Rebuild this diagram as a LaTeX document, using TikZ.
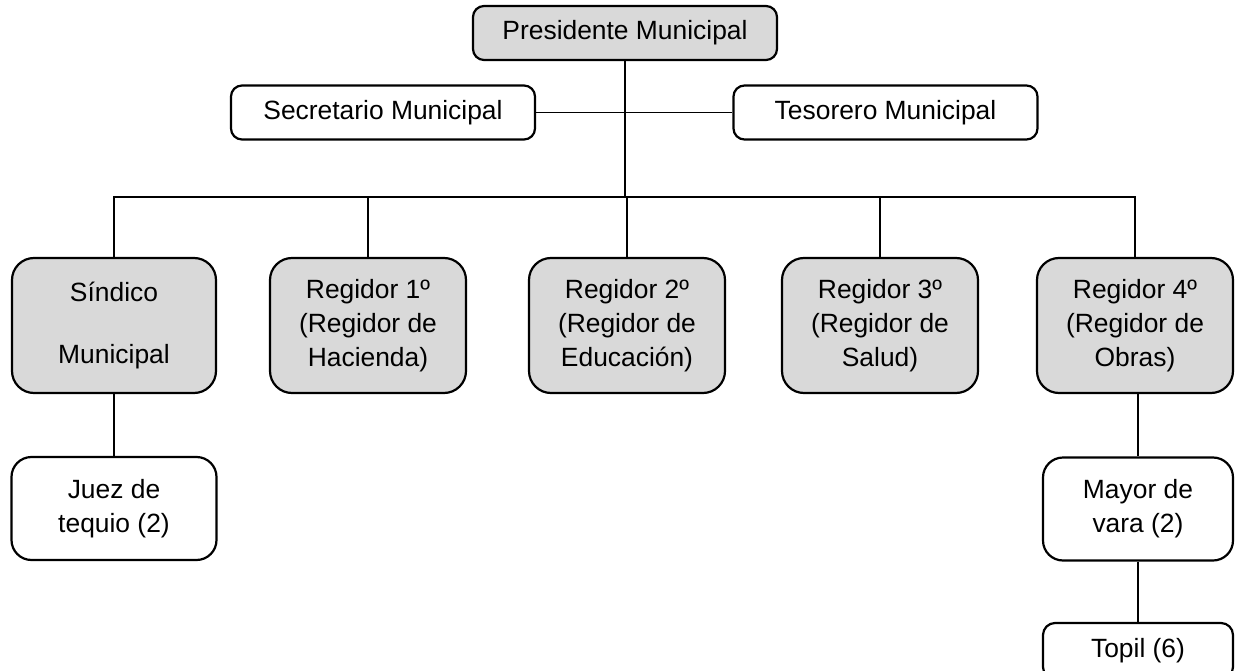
\documentclass[tikz,border=0pt]{standalone}
\usepackage{fontspec}
\setmainfont{Liberation Sans}
\definecolor{boxgray}{HTML}{D9D9D9}
\begin{document}
\begin{tikzpicture}[x=1pt,y=-1pt,
  base/.style={draw=black, line width=2.2pt, align=center, inner sep=0pt,
    font=\fontsize{26.4}{34}\selectfont},
  smallbox/.style={base, fill=white, rounded corners=11pt, minimum width=304pt, minimum height=54pt},
  bigbox/.style={base, fill=boxgray, rounded corners=22pt, minimum width=196pt, minimum height=135pt},
  subbox/.style={base, fill=white, rounded corners=20pt, minimum height=103pt},
  link/.style={draw=black, line width=1.7pt}]
\useasboundingbox[fill=white] (0,0) rectangle (1236,671);
% top
\node[smallbox, fill=boxgray] (pres) at (625,33) {Presidente Municipal};
\node[smallbox] (sec) at (383,112.5) {Secretario Municipal};
\node[smallbox] (tes) at (885.5,112.5) {Tesorero Municipal};
% second row
\node[bigbox, minimum width=204pt] (sin) at (114,325.5) {Síndico\\[28pt]Municipal};
\node[bigbox] (r1) at (368,325.5) {Regidor 1º\\(Regidor de\\Hacienda)};
\node[bigbox] (r2) at (627,325.5) {Regidor 2º\\(Regidor de\\Educación)};
\node[bigbox] (r3) at (880,325.5) {Regidor 3º\\(Regidor de\\Salud)};
\node[bigbox] (r4) at (1135,325.5) {Regidor 4º\\(Regidor de\\Obras)};
% lower
\node[subbox, minimum width=205pt] (juez) at (114,508.5) {Juez de\\tequio (2)};
\node[subbox, minimum width=190pt] (mayor) at (1138,509) {Mayor de\\vara (2)};
\node[base, fill=white, rounded corners=12pt, minimum width=190pt, minimum height=56pt] (topil) at (1138,651) {Topil (6)};
% connectors
\coordinate (bus) at (625,197);
\draw[link] (sec.east) -- (tes.west);
\draw[link] (pres.south) -- (bus);
\draw[link] (sin.north) |- (r4.north |- bus) -- (r4.north);
\draw[link] (r1.north) -- (r1.north |- bus);
\draw[link] (r2.north) -- (r2.north |- bus);
\draw[link] (r3.north) -- (r3.north |- bus);
\draw[link] (sin.south) -- (juez.north);
\draw[link] (r4.south -| mayor.north) -- (mayor.north);
\draw[link] (mayor.south) -- (topil.north);
\end{tikzpicture}
\end{document}
